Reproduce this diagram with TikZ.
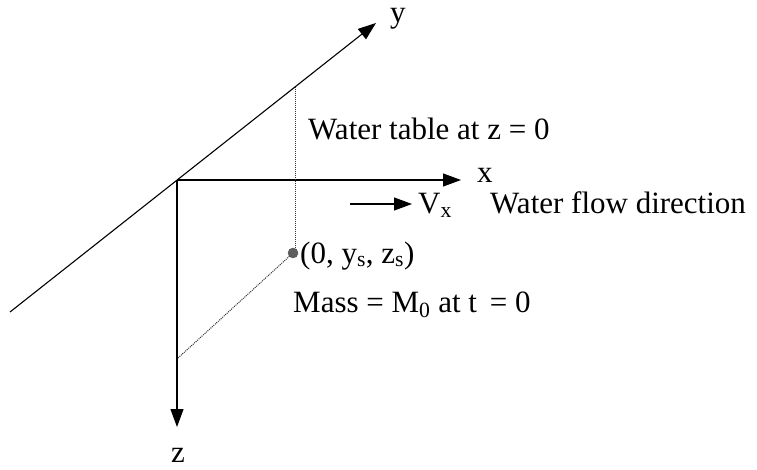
\documentclass[tikz,border=0pt]{standalone}
\usepackage{fontspec}
\setmainfont{Liberation Serif}
\definecolor{ink}{RGB}{0,0,0}
\definecolor{pin}{RGB}{95,95,95}
\usetikzlibrary{arrows.meta,positioning}
\tikzset{
  axis/.style={-{Triangle[length=18pt,width=13pt]}, line width=1.1pt, ink},
  guide/.style={densely dotted, line width=1pt, ink!80},
  lbl/.style={font=\fontsize{31}{36}\selectfont, inner sep=0pt, anchor=base west, text=ink},
  dot/.style={circle, fill=pin, draw=ink!70, inner sep=0pt, minimum size=10pt},
}

\begin{document}
\begin{tikzpicture}[x=1pt,y=-1pt]
    \useasboundingbox (0,0) rectangle (757,470);
    % axes
    \coordinate (O)     at (177,180);
    \coordinate (ylow)  at (10,312);
    \coordinate (ytip)  at (376,23);
    \coordinate (xtip)  at (461,180);
    \coordinate (ztip)  at (177,427);
    \coordinate (ytop)  at (295,87);
    \coordinate (zfoot) at (178,358);
    \draw[axis] (ylow) -- (ytip);
    \draw[axis] (O) -- (xtip);
    \draw[axis] (O) -- (ztip);
    \node[lbl] (ylab) at (390,23)  {y};
    \node[lbl] (xlab) at (477,183) {x};
    \node[lbl] (zlab) at (171,462) {z};
    % source point and its projections
    \node[dot] (src) at (293,253) {};
    \draw[guide] (ytop) -- (ytop |- src.north);
    \draw[guide] (zfoot) -- (src);
    % flow
    \coordinate (vtail) at (350,204);
    \coordinate (vtip)  at (412,204);
    \draw[axis] (vtail) -- (vtip);
    \node[lbl] (vx)   at (418,214) {V\textsubscript{x}};
    \node[lbl] (flow) at (490,214) {Water flow direction};
    \node[lbl] (wt)   at (308,140) {Water table at z = 0};
    \node[lbl] (pos)  at (300,263) {(0, y\textsubscript{s}, z\textsubscript{s})};
    \node[lbl] (mass) at (293,312) {Mass = M\textsubscript{0} at t \,= 0};
\end{tikzpicture}
\end{document}
